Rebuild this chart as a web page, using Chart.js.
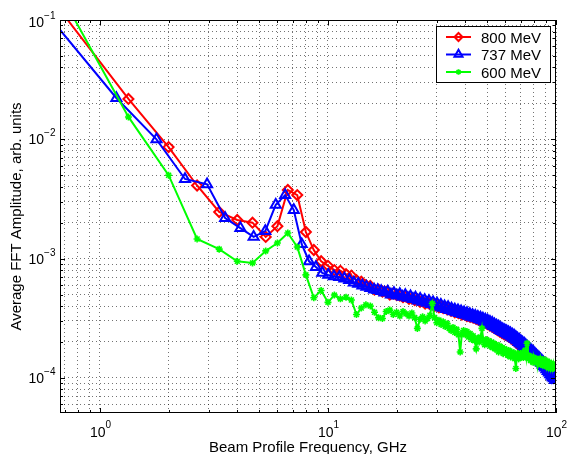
<!DOCTYPE html>
<html>
<head>
<meta charset="utf-8">
<script src="https://cdn.jsdelivr.net/npm/chart.js@4/dist/chart.umd.min.js"></script>
<style>
  html, body { margin: 0; padding: 0; background: #fff; }
  canvas { display: block; }
</style>
</head>
<body>
<canvas id="fftChart" width="570" height="454"></canvas>
<script>
const FONT = '"Liberation Sans", Arial, Helvetica, sans-serif';

// --- DATA ---
const seriesNames = ['800 MeV', '737 MeV', '600 MeV'];
const seriesColors = ['#ff0000', '#0000ff', '#00ff00'];
// frequency resolution (GHz) of each spectrum, point n sits at n * step
const stepGHz = [2 / 3, 0.59, 2 / 3];

const amp800 = [
  1.22e-1, 2.18e-2, 8.6e-3, 4.1e-3, 2.46e-3, 2.11e-3, 2.0e-3, 1.52e-3, 1.87e-3, 3.76e-3,
  3.41e-3, 1.67e-3, 1.18e-3, 9.5e-4, 8.7e-4, 8.0e-4, 7.9e-4, 7.4e-4, 7.2e-4, 6.6e-4,
  6.4e-4, 6.0e-4, 5.9e-4, 5.5e-4, 5.5e-4, 5.3e-4, 5.25e-4, 5.0e-4, 5.1e-4, 4.95e-4,
  4.9e-4, 4.75e-4, 4.8e-4, 4.6e-4, 4.65e-4, 4.5e-4, 4.55e-4, 4.35e-4, 4.4e-4, 4.2e-4,
  4.3e-4, 4.15e-4, 4.2e-4, 4.0e-4, 4.1e-4, 3.9e-4, 3.95e-4, 3.85e-4, 3.9e-4, 3.75e-4,
  3.8e-4, 3.65e-4, 3.7e-4, 3.55e-4, 3.6e-4, 3.5e-4, 3.55e-4, 3.4e-4, 3.45e-4, 3.4e-4,
  3.3e-4, 3.35e-4, 3.25e-4, 3.3e-4, 3.2e-4, 3.22e-4, 3.12e-4, 3.15e-4, 3.05e-4, 3.08e-4,
  2.98e-4, 3.0e-4, 2.9e-4, 2.92e-4, 2.82e-4, 2.85e-4, 2.75e-4, 2.78e-4, 2.68e-4, 2.7e-4,
  2.6e-4, 2.62e-4, 2.52e-4, 2.55e-4, 2.45e-4, 2.46e-4, 2.38e-4, 2.4e-4, 2.32e-4, 2.35e-4,
  2.28e-4, 2.3e-4, 2.22e-4, 2.24e-4, 2.16e-4, 2.18e-4, 2.1e-4, 2.08e-4, 2.04e-4, 2.02e-4,
  1.96e-4, 1.95e-4, 1.9e-4, 1.89e-4, 1.84e-4, 1.83e-4, 1.78e-4, 1.77e-4, 1.73e-4, 1.72e-4,
  1.68e-4, 1.67e-4, 1.63e-4, 1.62e-4, 1.58e-4, 1.57e-4, 1.54e-4, 1.53e-4, 1.5e-4, 1.49e-4,
  1.46e-4, 1.45e-4, 1.42e-4, 1.41e-4, 1.38e-4, 1.37e-4, 1.34e-4, 1.33e-4, 1.3e-4, 1.29e-4,
  1.27e-4, 1.26e-4, 1.24e-4, 1.23e-4, 1.2e-4, 1.19e-4, 1.17e-4, 1.16e-4, 1.14e-4, 1.13e-4,
  1.1e-4, 1.09e-4, 1.08e-4, 1.07e-4, 1.06e-4, 1.05e-4, 1.04e-4, 1.03e-4, 1.02e-4, 1.02e-4
];

const amp737 = [
  1.1e-1, 2.22e-2, 1.0e-2, 4.65e-3, 4.2e-3, 2.19e-3, 1.8e-3, 1.52e-3, 1.7e-3, 2.82e-3,
  3.41e-3, 2.55e-3, 1.32e-3, 9.5e-4, 8.5e-4, 7.6e-4, 7.3e-4, 7.1e-4, 7.0e-4, 6.8e-4,
  6.6e-4, 6.3e-4, 6.15e-4, 5.95e-4, 5.8e-4, 5.65e-4, 5.5e-4, 5.45e-4, 5.35e-4, 5.2e-4,
  5.3e-4, 5.0e-4, 5.15e-4, 4.9e-4, 5.05e-4, 4.78e-4, 4.95e-4, 4.68e-4, 4.82e-4, 4.58e-4,
  4.72e-4, 4.45e-4, 4.6e-4, 4.35e-4, 4.5e-4, 4.25e-4, 4.4e-4, 4.15e-4, 4.3e-4, 4.06e-4,
  4.2e-4, 3.95e-4, 4.1e-4, 3.86e-4, 3.98e-4, 3.78e-4, 3.92e-4, 3.7e-4, 3.82e-4, 3.62e-4,
  3.74e-4, 3.55e-4, 3.68e-4, 3.5e-4, 3.62e-4, 3.43e-4, 3.55e-4, 3.38e-4, 3.5e-4, 3.32e-4,
  3.43e-4, 3.25e-4, 3.37e-4, 3.2e-4, 3.31e-4, 3.15e-4, 3.26e-4, 3.1e-4, 3.2e-4, 3.03e-4,
  3.14e-4, 2.97e-4, 3.08e-4, 2.92e-4, 3.02e-4, 2.85e-4, 2.95e-4, 2.78e-4, 2.89e-4, 2.72e-4,
  2.82e-4, 2.65e-4, 2.75e-4, 2.59e-4, 2.69e-4, 2.52e-4, 2.62e-4, 2.47e-4, 2.56e-4, 2.42e-4,
  2.51e-4, 2.37e-4, 2.46e-4, 2.32e-4, 2.41e-4, 2.27e-4, 2.36e-4, 2.22e-4, 2.31e-4, 2.17e-4,
  2.26e-4, 2.11e-4, 2.2e-4, 2.06e-4, 2.14e-4, 2.0e-4, 2.09e-4, 1.95e-4, 2.03e-4, 1.9e-4,
  1.98e-4, 1.85e-4, 1.93e-4, 1.8e-4, 1.88e-4, 1.75e-4, 1.82e-4, 1.7e-4, 1.77e-4, 1.66e-4,
  1.72e-4, 1.61e-4, 1.68e-4, 1.57e-4, 1.64e-4, 1.53e-4, 1.59e-4, 1.49e-4, 1.55e-4, 1.45e-4,
  1.51e-4, 1.41e-4, 1.47e-4, 1.37e-4, 1.43e-4, 1.33e-4, 1.39e-4, 1.29e-4, 1.35e-4, 1.25e-4,
  1.31e-4, 1.22e-4, 1.28e-4, 1.18e-4, 1.24e-4, 1.14e-4, 1.2e-4, 1.11e-4, 1.16e-4, 1.07e-4,
  1.12e-4, 1.04e-4, 1.09e-4, 1.01e-4, 1.06e-4, 0.99e-4, 1.03e-4, 0.96e-4, 0.97e-4
];

const amp600 = [
  1.7e-1, 1.54e-2, 5.0e-3, 1.46e-3, 1.2e-3, 9.5e-4, 9.2e-4, 1.16e-3, 1.35e-3, 1.64e-3,
  1.25e-3, 7.3e-4, 4.7e-4, 5.4e-4, 4.3e-4, 4.95e-4, 4.6e-4, 4.75e-4, 4.5e-4, 3.4e-4,
  3.85e-4, 4.1e-4, 4.0e-4, 3.55e-4, 3.2e-4, 3.15e-4, 3.6e-4, 3.7e-4, 3.4e-4, 3.55e-4,
  3.3e-4, 3.6e-4, 3.45e-4, 3.3e-4, 3.5e-4, 3.2e-4, 2.6e-4, 3.1e-4, 3.25e-4, 3.0e-4,
  3.15e-4, 3.35e-4, 4.2e-4, 3.2e-4, 2.9e-4, 3.05e-4, 2.8e-4, 2.95e-4, 2.7e-4, 2.85e-4,
  2.6e-4, 2.5e-4, 2.65e-4, 2.4e-4, 2.55e-4, 2.3e-4, 1.65e-4, 2.35e-4, 2.5e-4, 2.3e-4,
  2.45e-4, 2.2e-4, 2.35e-4, 2.1e-4, 2.25e-4, 2.05e-4, 1.75e-4, 2.15e-4, 2.0e-4, 2.2e-4,
  2.6e-4, 2.05e-4, 1.9e-4, 2.1e-4, 1.95e-4, 2.05e-4, 1.85e-4, 2.0e-4, 1.8e-4, 1.95e-4,
  1.75e-4, 1.9e-4, 1.78e-4, 1.65e-4, 1.85e-4, 1.7e-4, 1.8e-4, 1.6e-4, 1.75e-4, 1.65e-4,
  1.72e-4, 1.55e-4, 1.7e-4, 1.6e-4, 1.5e-4, 1.65e-4, 1.55e-4, 1.62e-4, 1.45e-4, 1.2e-4,
  1.5e-4, 1.6e-4, 1.45e-4, 1.55e-4, 1.6e-4, 1.5e-4, 1.62e-4, 1.48e-4, 1.55e-4, 1.7e-4,
  1.5e-4, 1.95e-4, 1.55e-4, 1.45e-4, 1.52e-4, 1.4e-4, 1.5e-4, 1.42e-4, 1.35e-4, 1.48e-4,
  1.4e-4, 1.45e-4, 1.35e-4, 1.42e-4, 1.3e-4, 1.4e-4, 1.33e-4, 1.45e-4, 1.32e-4, 1.38e-4,
  1.28e-4, 1.36e-4, 1.42e-4, 1.3e-4, 1.35e-4, 1.25e-4, 1.38e-4, 1.3e-4, 1.22e-4, 1.35e-4,
  1.28e-4, 1.2e-4, 1.32e-4, 1.25e-4, 1.3e-4, 1.2e-4, 1.28e-4, 1.22e-4, 1.26e-4, 1.2e-4
];

const xMajorTicks = [1, 10, 100];
const xTickExp = ['0', '1', '2'];
const yMajorTicks = [1e-4, 1e-3, 1e-2, 1e-1];
const yTickExp = ['\u22124', '\u22123', '\u22122', '\u22121'];
const xRange = [0.668, 100];
const yRange = [5.08e-5, 0.1];
const xTitle = 'Beam Profile Frequency, GHz';
const yTitle = 'Average FFT Amplitude, arb. units';

// --- HELPERS ---
const toPoints = (vals, df) => vals.map((v, i) => ({ x: (i + 1) * df, y: v }));

// 1..9 x 10^n ticks inside [min, max]
function logTicks(min, max) {
  const out = [];
  for (let e = Math.floor(Math.log10(min)); e <= Math.ceil(Math.log10(max)); e++) {
    for (let m = 1; m <= 9; m++) {
      const v = m * Math.pow(10, e);
      if (v >= min * 0.999 && v <= max * 1.001) out.push({ value: v, major: m === 1 });
    }
  }
  return out;
}

function marker(ctx, style, x, y, r) {
  ctx.beginPath();
  if (style === 'rectRot') {
    ctx.moveTo(x, y - r); ctx.lineTo(x + r, y); ctx.lineTo(x, y + r); ctx.lineTo(x - r, y); ctx.closePath();
  } else if (style === 'triangle') {
    ctx.moveTo(x, y - r);
    ctx.lineTo(x + r * 0.866, y + r / 2);
    ctx.lineTo(x - r * 0.866, y + r / 2);
    ctx.closePath();
  } else {
    ctx.moveTo(x - r, y); ctx.lineTo(x + r, y);
    ctx.moveTo(x, y - r); ctx.lineTo(x, y + r);
    const d = r * 0.707;
    ctx.moveTo(x - d, y - d); ctx.lineTo(x + d, y + d);
    ctx.moveTo(x - d, y + d); ctx.lineTo(x + d, y - d);
  }
  ctx.stroke();
}

const markerStyles = [
  { pointStyle: 'rectRot', radius: 5, width: 2 },
  { pointStyle: 'triangle', radius: 5.8, width: 2 },
  { pointStyle: 'star', radius: 3.5, width: 1.6 }
];

// frame, inner tick marks, power-of-ten labels, titles and boxed legend
const decorPlugin = {
  id: 'decor',
  afterDraw(chart) {
    const { ctx, chartArea: a, scales: { x, y } } = chart;
    ctx.save();
    ctx.strokeStyle = '#000';
    ctx.lineWidth = 1;
    ctx.beginPath();
    x.ticks.forEach(t => {
      const px = Math.round(x.getPixelForValue(t.value)) + 0.5;
      const len = t.major ? 5 : 3;
      ctx.moveTo(px, a.bottom); ctx.lineTo(px, a.bottom - len);
      ctx.moveTo(px, a.top); ctx.lineTo(px, a.top + len);
    });
    y.ticks.forEach(t => {
      const py = Math.round(y.getPixelForValue(t.value)) + 0.5;
      const len = t.major ? 5 : 3;
      ctx.moveTo(a.left, py); ctx.lineTo(a.left + len, py);
      ctx.moveTo(a.right, py); ctx.lineTo(a.right - len, py);
    });
    ctx.stroke();
    ctx.strokeRect(Math.round(a.left) + 0.5, Math.round(a.top) + 0.5,
      Math.round(a.right - a.left) - 1, Math.round(a.bottom - a.top) - 1);

    ctx.fillStyle = '#000';
    ctx.textAlign = 'left';
    ctx.textBaseline = 'alphabetic';
    const big = '14px ' + FONT, small = '10px ' + FONT;

    xMajorTicks.forEach((v, i) => {
      const px = x.getPixelForValue(v);
      ctx.font = big;
      ctx.fillText('10', px - 10, a.bottom + 24);
      const w = ctx.measureText('10').width;
      ctx.font = small;
      ctx.fillText(xTickExp[i], px - 10 + w, a.bottom + 14.5);
    });

    yMajorTicks.forEach((v, i) => {
      const py = y.getPixelForValue(v) + (i === yMajorTicks.length - 1 ? 2 : 0);
      ctx.font = small;
      const we = ctx.measureText(yTickExp[i]).width;
      ctx.font = big;
      const w = ctx.measureText('10').width;
      const left = a.left - 4.5 - we - w;
      ctx.fillText('10', left, py + 5);
      ctx.font = small;
      ctx.fillText(yTickExp[i], left + w, py - 3);
    });

    ctx.font = '15px ' + FONT;
    ctx.textAlign = 'center';
    ctx.fillText(xTitle, (a.left + a.right) / 2, 452);
    ctx.save();
    ctx.translate(20.5, (a.top + a.bottom) / 2);
    ctx.rotate(-Math.PI / 2);
    ctx.fillText(yTitle, 0, 0);
    ctx.restore();

    // legend
    const lx = 436.5, ly = 26.5, lw = 114, lh = 56;
    ctx.fillStyle = '#fff';
    ctx.fillRect(lx, ly, lw, lh);
    ctx.strokeStyle = '#000';
    ctx.lineWidth = 1;
    ctx.strokeRect(lx, ly, lw, lh);
    const rows = [37, 54.5, 72];
    ctx.textAlign = 'left';
    ctx.font = '15px ' + FONT;
    seriesNames.forEach((name, i) => {
      const ry = rows[i];
      ctx.strokeStyle = seriesColors[i];
      ctx.lineWidth = 2;
      ctx.beginPath();
      ctx.moveTo(446, ry); ctx.lineTo(471, ry);
      ctx.stroke();
      ctx.lineWidth = markerStyles[i].width;
      marker(ctx, markerStyles[i].pointStyle, 458.5, ry, markerStyles[i].radius * 0.8);
      ctx.fillStyle = '#000';
      ctx.fillText(name, 481, ry + 5.5);
    });
    ctx.restore();
  }
};

const amps = [amp800, amp737, amp600];
const datasets = amps.map((vals, i) => ({
  label: seriesNames[i],
  data: toPoints(vals, stepGHz[i]),
  borderColor: seriesColors[i],
  borderWidth: 2,
  pointStyle: markerStyles[i].pointStyle,
  pointRadius: markerStyles[i].radius,
  pointBorderWidth: markerStyles[i].width,
  pointBorderColor: seriesColors[i],
  pointBackgroundColor: 'rgba(0,0,0,0)',
  tension: 0,
  order: 3 - i   // 600 MeV drawn on top, as in the original
}));

const gridOpts = { color: 'rgba(0,0,0,0.55)', lineWidth: 1, drawTicks: false };

new Chart(document.getElementById('fftChart'), {
  type: 'line',
  data: { datasets },
  options: {
    responsive: false,
    animation: false,
    devicePixelRatio: 1,
    events: [],
    layout: { padding: { top: 20, right: 14, left: 0, bottom: 0 } },
    plugins: { legend: { display: false }, tooltip: { enabled: false } },
    scales: {
      x: {
        type: 'logarithmic',
        min: xRange[0], max: xRange[1],
        bounds: 'data',
        afterBuildTicks: s => { s.ticks = logTicks(s.min, s.max); },
        afterFit: s => { s.height = 41; },
        ticks: { display: false },
        grid: gridOpts,
        border: { display: false, dash: [1, 3] }
      },
      y: {
        type: 'logarithmic',
        min: yRange[0], max: yRange[1],
        bounds: 'data',
        afterBuildTicks: s => { s.ticks = logTicks(s.min, s.max); },
        afterFit: s => { s.width = 60; },
        ticks: { display: false },
        grid: gridOpts,
        border: { display: false, dash: [1, 3] }
      }
    }
  },
  plugins: [decorPlugin]
});
</script>
</body>
</html>
